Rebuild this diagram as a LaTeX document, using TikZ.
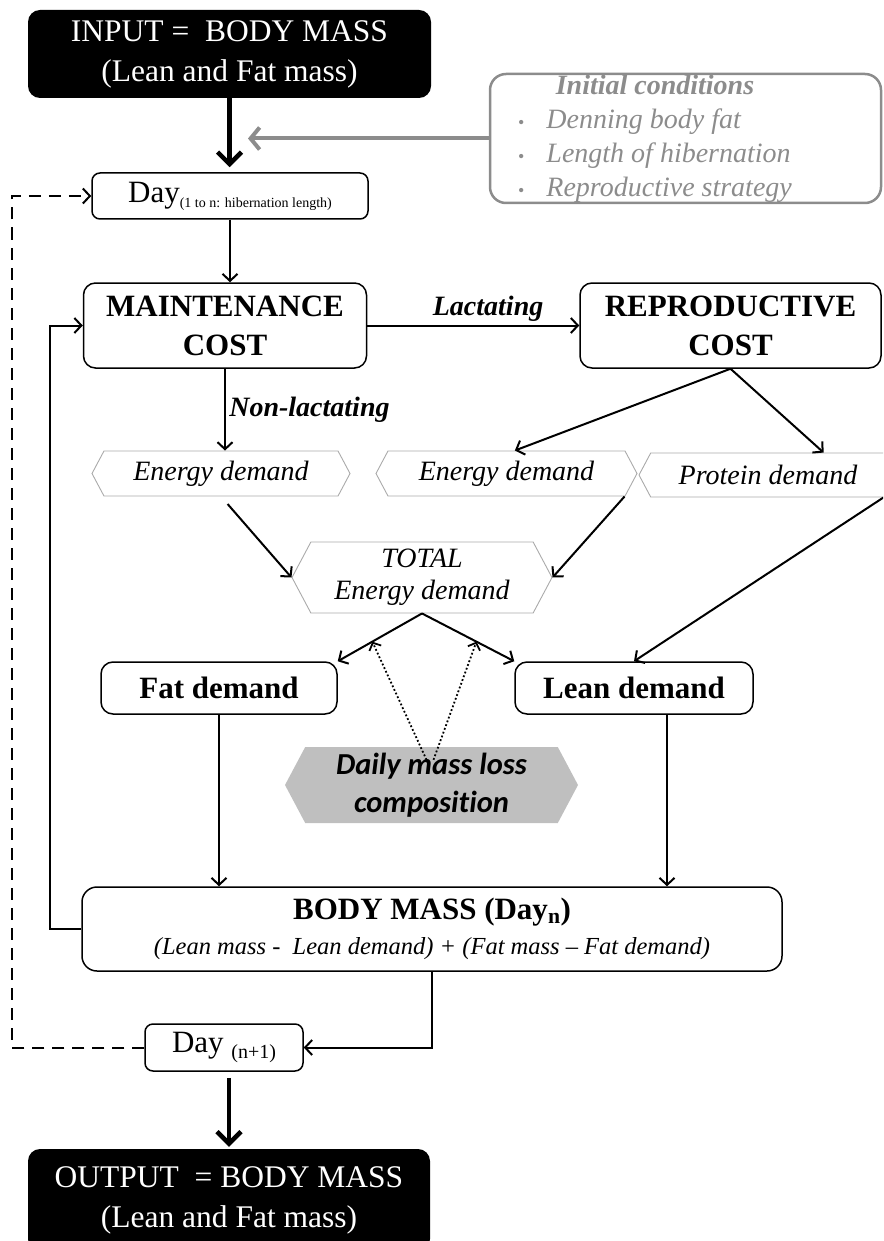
\documentclass[tikz,border=0pt]{standalone}
\usepackage{fontspec}
\setmainfont{Liberation Serif}
\newfontfamily\calibrifont[Ligatures=NoCommon]{Carlito}
\usetikzlibrary{shapes.symbols}
\usetikzlibrary{arrows.meta}
\usetikzlibrary{calc}
\definecolor{initgray}{RGB}{140,140,140}
\definecolor{hexgray}{RGB}{170,170,170}
\definecolor{lossgray}{RGB}{191,191,191}
\tikzset{
    blackbox/.style={
        rectangle, rounded corners=12pt, fill=black, text=white, align=center,
        font=\fontsize{31.5}{40}\selectfont, inner sep=0pt
    },
    initbox/.style={
        draw=initgray, line width=2.5pt, rounded corners=16pt
    },
    inittext/.style={
        text=initgray, inner sep=0pt, font=\fontsize{28}{34}\selectfont
    },
    daybox/.style={
        draw, line width=1.5pt, rounded corners=8pt, inner sep=0pt,
        font=\fontsize{31}{36}\selectfont
    },
    costbox/.style={
        draw, line width=1.5pt, rounded corners=12pt, align=center, inner sep=0pt,
        font=\bfseries\fontsize{31}{39}\selectfont
    },
    demand/.style={
        signal, signal to=west and east, signal pointer angle=124,
        draw=hexgray, line width=0.9pt, align=center, inner sep=0pt,
        font=\itshape\fontsize{28}{32}\selectfont
    },
    lossbox/.style={
        signal, signal to=west and east, signal pointer angle=124,
        fill=lossgray, align=center, inner sep=0pt,
        font=\calibrifont\bfseries\itshape\fontsize{30.5}{38}\selectfont
    },
    lab/.style={font=\bfseries\itshape\fontsize{28}{32}\selectfont},
    arr/.style={-{Straight Barb[length=7pt,width=15pt]}, line width=2pt},
    bigarr/.style={-{Straight Barb[length=12pt,width=24pt]}, line width=4.5pt},
    grayarr/.style={-{Straight Barb[length=9pt,width=22pt]}, line width=4pt, draw=initgray},
    dasharr/.style={-{Straight Barb[length=7pt,width=15pt]}, line width=2pt, dash pattern=on 12pt off 8pt},
    dotarr/.style={-{Straight Barb[length=6pt,width=13pt]}, line width=1.8pt, dash pattern=on 1.8pt off 2.2pt}
}

\begin{document}
\begin{tikzpicture}[x=1pt,y=-1pt]
	\useasboundingbox (0,0) rectangle (883,1241);
	\clip (0,0) rectangle (883,1241);

	% Input and initial conditions
	\node[blackbox, minimum width=403pt, minimum height=88pt] (input) at (229.5,54) {INPUT = \ BODY MASS\\(Lean and Fat mass)};
	\node[initbox, minimum width=391pt, minimum height=129pt] (init) at (685.5,138.5) {};
	\node[inittext] (initlist) at (655,138.5) {\begin{tabular}{@{}l@{\hspace{22pt}}l@{}}
		\multicolumn{2}{c}{\bfseries\itshape Initial conditions}\\
		{\fontsize{18}{18}\selectfont\textbullet} & \itshape Denning body fat\\
		{\fontsize{18}{18}\selectfont\textbullet} & \itshape Length of hibernation\\
		{\fontsize{18}{18}\selectfont\textbullet} & \itshape Reproductive strategy
	\end{tabular}};
	\coordinate (grayend) at (248,138.5);

	\node[daybox, minimum width=276pt, minimum height=46pt] (day1) at (230,196) {Day\raisebox{-5pt}{\fontsize{14}{14}\selectfont(1 to n: hibernation length)}};

	% Costs
	\node[costbox, minimum width=283pt, minimum height=85pt] (maint) at (225,325.5) {MAINTENANCE\\COST};
	\node[costbox, minimum width=301pt, minimum height=85pt] (repro) at (730.5,325.5) {REPRODUCTIVE\\COST};

	% Demands
	\node[demand, minimum width=258pt, minimum height=45pt] (ed1) at (221,473.5) {Energy demand};
	\node[demand, minimum width=261pt, minimum height=45pt] (ed2) at (506.5,473.5) {Energy demand};
	\node[demand, minimum width=258pt, minimum height=44pt] (prot) at (768,475) {Protein demand};
	\node[demand, minimum width=260pt, minimum height=71pt] (total) at (422,577.5) {TOTAL\\Energy demand};
	\node[costbox, minimum width=236pt, minimum height=52pt] (fat) at (219,688) {Fat demand};
	\node[costbox, minimum width=238pt, minimum height=52pt] (lean) at (634,688) {Lean demand};
	\node[lossbox, minimum width=293pt, minimum height=76pt] (daily) at (431.5,785) {Daily mass loss\\composition};

	% Body mass and output
	\node[costbox, rounded corners=15pt, minimum width=700pt, minimum height=84pt, font=\fontsize{24.5}{35}\selectfont] (bm) at (432,929)
		{{\bfseries\fontsize{31}{35}\selectfont BODY MASS (Day\textsubscript{n})}\\\itshape(Lean mass -\ \ Lean demand) + (Fat mass -- Fat demand)};
	\node[daybox, minimum width=158pt, minimum height=47pt] (day2) at (224,1047.5) {Day \raisebox{-6pt}{\fontsize{20}{20}\selectfont(n+1)}};
	\node[blackbox, minimum width=402pt, minimum height=102pt] (output) at (229,1200) {OUTPUT \ = BODY MASS\\(Lean and Fat mass)};

	% Connectors
	\draw[bigarr, shorten >=5pt] (input.south) -- (input.south |- day1.north);
	\draw[grayarr] (init.west) -- (grayend);
	\draw[arr] (day1.south) -- (day1.south |- maint.north);
	\draw[arr] (maint.east) -- node[lab, above, pos=0.57] {Lactating} (repro.west);
	\draw[arr] (maint.south) -- node[lab, right, pos=0.5] {Non-lactating} (maint.south |- ed1.north);
	\draw[arr] (repro.south) -- (ed2.70);
	\draw[arr] (repro.south) -- (prot.22);
	\draw[arr, shorten <=10pt] (ed1.south) -- (total.west);
	\draw[arr] (ed2.-11) -- (total.east);
	\draw[arr] (prot.-11) -- (lean.north);
	\draw[arr] (total.south) -- coordinate[pos=0.59] (fatmid) (fat.north east);
	\draw[arr] (total.south) -- coordinate[pos=0.59] (leanmid) (lean.north west);
	\draw[dotarr] ($(daily.north)+(-5,13)$) -- (fatmid);
	\draw[dotarr] ($(daily.north)+(2,13)$) -- (leanmid);
	\draw[arr] (fat.south) -- (fat.south |- bm.north);
	\draw[arr] ([xshift=33pt]lean.south) -- ([xshift=33pt]lean.south |- bm.north);
	\draw[arr] (bm.west) -- ++(-31,0) |- (maint.west);
	\draw[arr] (bm.south) |- (day2.east);
	\draw[dasharr] (day2.west) -- ++(-132,0) |- (day1.west);
	\draw[bigarr, shorten <=6pt, shorten >=2pt] (output.north |- day2.south) -- (output.north);
\end{tikzpicture}
\end{document}
